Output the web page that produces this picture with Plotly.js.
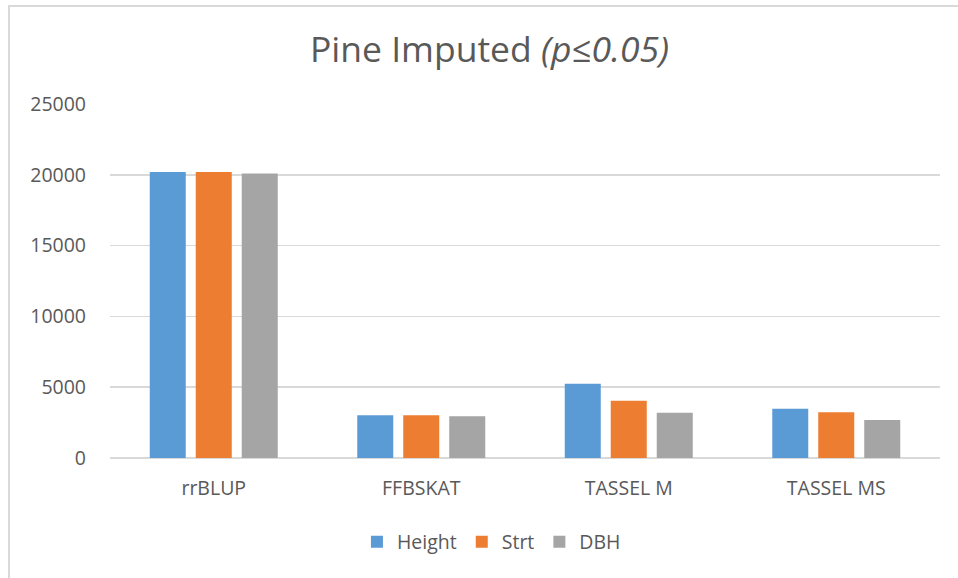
<!DOCTYPE html>
<html>
<head>
<meta charset="utf-8">
<script src="https://cdn.plot.ly/plotly-3.0.1.min.js"></script>
<style>
  html, body { margin: 0; padding: 0; background: #ffffff; }
  #chart { width: 958px; height: 578px; }
</style>
</head>
<body>
<div id="chart"></div>
<script>
// Number of significant markers per method and trait
const methods = ["rrBLUP", "FFBSKAT", "TASSEL M", "TASSEL MS"];
const heightVals = [20200, 3020, 5240, 3470];
const strtVals = [20200, 3020, 4040, 3230];
const dbhVals = [20100, 2950, 3190, 2690];

const seriesNames = ["Height", "Strt", "DBH"];
const seriesColors = ["#5B9BD5", "#ED7D31", "#A5A5A5"];
const seriesValues = [heightVals, strtVals, dbhVals];

const yTicks = [0, 5000, 10000, 15000, 20000, 25000];

const textColor = "#595959";
const fontFamily = "'Open Sans', 'Noto Sans', sans-serif";

const traces = seriesNames.map((name, i) => ({
  type: "bar",
  name: name,
  x: methods,
  y: seriesValues[i],
  marker: { color: seriesColors[i], line: { width: 0 } },
  hoverinfo: "x+y+name"
}));

// Plot-area geometry in pixels, used to place the outer frame lines
const W = 958, H = 578;
const mL = 110, mR = 18, mT = 104, mB = 120;
const pw = W - mL - mR, ph = H - mT - mB;
const px = v => (v - mL) / pw;
const py = v => (H - mB - v) / ph;

const layout = {
  width: W,
  height: H,
  paper_bgcolor: "#ffffff",
  plot_bgcolor: "#ffffff",
  margin: { l: mL, r: mR, t: mT, b: mB, pad: 0 },
  title: {
    text: "Pine Imputed <i>(p≤0.05)</i>",
    font: { family: fontFamily, size: 35.5, color: textColor },
    x: 0.511,
    xref: "container",
    xanchor: "center",
    y: 1 - 50 / H,
    yref: "container",
    yanchor: "middle"
  },
  font: { family: fontFamily, size: 19.5, color: textColor },
  barmode: "group",
  bargap: 0.335,
  bargroupgap: 0.217,
  xaxis: {
    type: "category",
    showgrid: false,
    showline: false,
    zeroline: false,
    ticks: "",
    tickfont: { family: fontFamily, size: 19.5, color: textColor },
    ticklabelstandoff: 16
  },
  yaxis: {
    range: [0, 25000],
    tickvals: yTicks,
    ticktext: yTicks.map(String),
    showgrid: true,
    gridcolor: "#D9D9D9",
    gridwidth: 1.5,
    zeroline: true,
    zerolinecolor: "#D9D9D9",
    zerolinewidth: 2,
    showline: false,
    ticks: "",
    ticklabelstandoff: 23,
    tickfont: { family: fontFamily, size: 19.5, color: textColor }
  },
  legend: {
    orientation: "h",
    x: 0.513,
    xanchor: "center",
    xref: "container",
    y: 1 - 542 / H,
    yref: "container",
    yanchor: "middle",
    font: { family: fontFamily, size: 19.5, color: textColor },
    itemwidth: 30,
    traceorder: "normal"
  },
  shapes: [
    { type: "line", xref: "paper", yref: "paper", x0: px(9), x1: px(9), y0: py(5), y1: py(H + 5), line: { color: "#D9D9D9", width: 2 } },
    { type: "line", xref: "paper", yref: "paper", x0: px(8), x1: px(W + 5), y0: py(6), y1: py(6), line: { color: "#D9D9D9", width: 2 } }
  ]
};

Plotly.newPlot("chart", traces, layout, { displayModeBar: false, staticPlot: true });
</script>
</body>
</html>
